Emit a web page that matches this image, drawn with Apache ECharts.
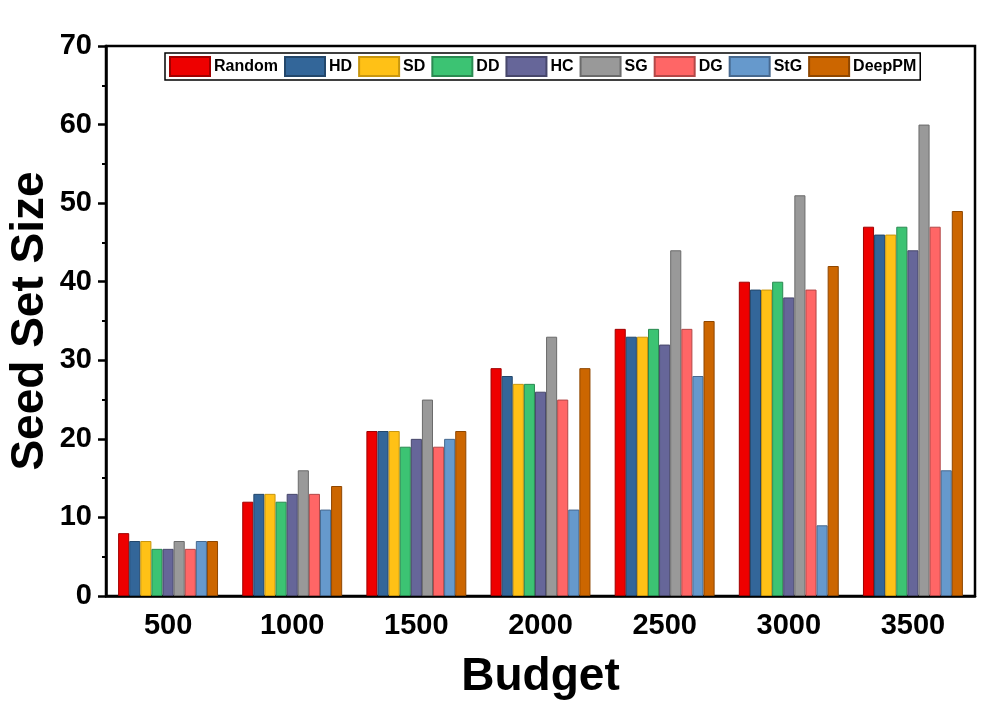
<!DOCTYPE html>
<html>
<head>
<meta charset="utf-8">
<script src="https://cdn.jsdelivr.net/npm/echarts@6/dist/echarts.min.js"></script>
<style>
  html, body { margin: 0; padding: 0; background: #fff; }
  #chart { width: 996px; height: 707px; }
</style>
</head>
<body>
<div id="chart"></div>
<script>
// budgets on the x axis
var budgets = ['500', '1000', '1500', '2000', '2500', '3000', '3500'];

// seed set size per method
var random = [8, 12, 21, 29, 34, 40, 47];
var hd     = [7, 13, 21, 28, 33, 39, 46];
var sd     = [7, 13, 21, 27, 33, 39, 46];
var dd     = [6, 12, 19, 27, 34, 40, 47];
var hc     = [6, 13, 20, 26, 32, 38, 44];
var sg     = [7, 16, 25, 33, 44, 51, 60];
var dg     = [6, 13, 19, 25, 34, 39, 47];
var stg    = [7, 11, 20, 11, 28, 9, 16];
var deeppm = [7, 14, 21, 29, 35, 42, 49];

var methods = ['Random', 'HD', 'SD', 'DD', 'HC', 'SG', 'DG', 'StG', 'DeepPM'];
var values = [random, hd, sd, dd, hc, sg, dg, stg, deeppm];
var fills   = ['#EE0000', '#336699', '#FFC116', '#3CC373', '#666699', '#999999', '#FF6666', '#6699CC', '#CC6600'];
var borders = ['#A00000', '#23476B', '#C8960E', '#2A8A51', '#47476B', '#6B6B6B', '#B34848', '#47698F', '#8F4700'];

var font = '"Liberation Sans", Arial, Helvetica, sans-serif';

var series = methods.map(function (name, i) {
  return {
    name: name,
    type: 'bar',
    data: values[i],
    xAxisIndex: 0,
    barGap: 0,
    barCategoryGap: '19.5%',
    itemStyle: { color: fills[i], borderColor: borders[i], borderWidth: 1 }
  };
});

var myChart = echarts.init(document.getElementById('chart'));
myChart.setOption({
  animation: false,
  textStyle: { fontFamily: font },
  grid: {
    left: 106, right: 21, top: 46, bottom: 111,
    outerBoundsMode: 'none',
    containLabel: false,
    show: true, borderColor: '#000', borderWidth: 2.5
  },
  // y axis title, placed by hand
  graphic: [{
    type: 'text',
    x: 30, y: 321,
    rotation: Math.PI / 2,
    style: {
      text: 'Seed Set Size',
      font: 'bold 46px ' + font,
      fill: '#000',
      textAlign: 'center',
      textVerticalAlign: 'middle'
    }
  }],
  legend: {
    data: methods,
    left: 165, top: 53,
    orient: 'horizontal',
    icon: 'rect',
    itemWidth: 40, itemHeight: 19, itemGap: 6,
    padding: [3, 4],
    borderColor: '#000', borderWidth: 1.5,
    textStyle: { fontFamily: font, fontWeight: 'bold', fontSize: 16, color: '#000', padding: [0, 0, 0, -1] }
  },
  xAxis: [
    {
      type: 'category',
      data: budgets,
      position: 'bottom',
      name: 'Budget',
      nameLocation: 'middle',
      nameGap: 58,
      nameTextStyle: { fontFamily: font, fontWeight: 'bold', fontSize: 46, color: '#000' },
      axisLine: { lineStyle: { color: '#000', width: 2.5 } },
      axisTick: { alignWithLabel: true, length: 8, lineStyle: { color: '#000', width: 2.5 } },
      axisLabel: { margin: 15, fontFamily: font, fontWeight: 'bold', fontSize: 29, color: '#000' }
    },
    {
      type: 'category',
      data: budgets,
      position: 'bottom',
      axisLine: { show: false },
      axisTick: { length: 4, lineStyle: { color: '#000', width: 2.5 } },
      axisLabel: { show: false }
    }
  ],
  yAxis: {
    type: 'value',
    min: 0, max: 70, interval: 10,
    axisLine: { show: true, lineStyle: { color: '#000', width: 2.5 } },
    axisTick: { show: true, length: 8, lineStyle: { color: '#000', width: 2.5 } },
    minorTick: { show: true, splitNumber: 2, length: 4, lineStyle: { color: '#000', width: 2 } },
    splitLine: { show: false },
    axisLabel: { margin: 14, fontFamily: font, fontWeight: 'bold', fontSize: 29, color: '#000' }
  },
  series: series
});
</script>
</body>
</html>
